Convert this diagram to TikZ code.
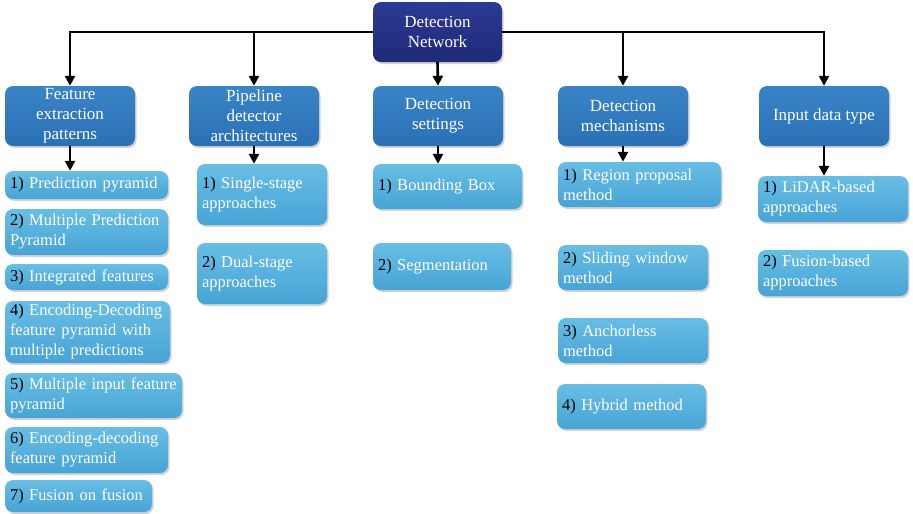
\documentclass[tikz,border=0pt]{standalone}
\usepackage{fontspec}
\setmainfont{Liberation Serif}
\usetikzlibrary{arrows.meta,shadows}

\definecolor{navy}{HTML}{1F2A78}
\definecolor{navytop}{HTML}{2B3A92}
\definecolor{midblue}{HTML}{2A70B5}
\definecolor{midtop}{HTML}{3A84C6}
\definecolor{lightblue}{HTML}{48A4D6}
\definecolor{lighttop}{HTML}{68BEE4}

\newcommand{\numlbl}[1]{\textcolor{black}{#1)}}

\tikzset{
    basebox/.style={rounded corners=8pt, text=white, inner ysep=2pt,
        drop shadow={opacity=0.35, shadow xshift=1.5pt, shadow yshift=-2pt}},
    rootbox/.style={basebox, top color=navytop, bottom color=navy, align=center,
        minimum width=129pt, minimum height=60pt, font=\fontsize{17}{20}\selectfont},
    headbox/.style={basebox, top color=midtop, bottom color=midblue, align=center,
        minimum width=130pt, minimum height=60pt, font=\fontsize{17}{20}\selectfont},
    itembox/.style={basebox, top color=lighttop, bottom color=lightblue, align=left,
        inner xsep=5pt, font=\fontsize{16.5}{20}\selectfont},
    link/.style={line width=2.6pt, -{Triangle[width=10pt,length=10pt]}}
}

\begin{document}
\begin{tikzpicture}[x=1pt, y=-1pt]
    \useasboundingbox (0,0) rectangle (913,514);

    %Root and second level
    \node[rootbox] (net) at (437.5,32) {Detection\\Network};
    \node[headbox] (feat) at (70,116) {Feature\\extraction\\patterns};
    \node[headbox] (pipe) at (254,116) {Pipeline\\detector\\architectures};
    \node[headbox] (sett) at (438,116) {Detection\\settings};
    \node[headbox] (mech) at (623,116) {Detection\\mechanisms};
    \node[headbox] (inp) at (824,116) {Input data type};

    %Feature extraction patterns
    \node[itembox, text width=153pt, minimum height=28pt] (feat1) at (86.5,185) {\numlbl{1} Prediction pyramid};
    \node[itembox, text width=153pt, minimum height=46pt] (feat2) at (86.5,232) {\numlbl{2} Multiple Prediction\\Pyramid};
    \node[itembox, text width=153pt, minimum height=26pt] (feat3) at (86.5,277) {\numlbl{3} Integrated features};
    \node[itembox, text width=155pt, minimum height=62pt] (feat4) at (87.5,332) {\numlbl{4} Encoding-Decoding\\feature pyramid with\\multiple predictions};
    \node[itembox, text width=167pt, minimum height=45pt] (feat5) at (93.5,395.5) {\numlbl{5} Multiple input feature\\pyramid};
    \node[itembox, text width=153pt, minimum height=46pt] (feat6) at (86.5,450) {\numlbl{6} Encoding-decoding\\feature pyramid};
    \node[itembox, text width=137pt, minimum height=32pt] (feat7) at (78.5,496) {\numlbl{7} Fusion on fusion};

    %Pipeline detector architectures
    \node[itembox, text width=120pt, minimum height=61pt] (pipe1) at (262,194.5) {\numlbl{1} Single-stage\\approaches};
    \node[itembox, text width=120pt, minimum height=61pt] (pipe2) at (262,273.5) {\numlbl{2} Dual-stage\\approaches};

    %Detection settings
    \node[itembox, text width=139pt, minimum height=45pt] (sett1) at (447.5,186.5) {\numlbl{1} Bounding Box};
    \node[itembox, text width=128pt, minimum height=47pt] (sett2) at (442,266.5) {\numlbl{2} Segmentation};

    %Detection mechanisms
    \node[itembox, text width=153pt, minimum height=45pt] (mech1) at (639.5,184.5) {\numlbl{1} Region proposal\\method};
    \node[itembox, text width=140pt, minimum height=45pt] (mech2) at (633,267.5) {\numlbl{2} Sliding window\\method};
    \node[itembox, text width=140pt, minimum height=45pt] (mech3) at (633,340.5) {\numlbl{3} Anchorless\\method};
    \node[itembox, text width=139pt, minimum height=45pt] (mech4) at (631.5,406.5) {\numlbl{4} Hybrid method};

    %Input data type
    \node[itembox, text width=140pt, minimum height=46pt] (inp1) at (833,199) {\numlbl{1} LiDAR-based\\approaches};
    \node[itembox, text width=140pt, minimum height=46pt] (inp2) at (833,273) {\numlbl{2} Fusion-based\\approaches};

    %Connectors
    \draw[link] (net.west) -| (feat.north);
    \draw[link] (net.west) -| (pipe.north);
    \draw[link] (net.south) -- (sett.north);
    \draw[link] (net.east) -| (mech.north);
    \draw[link] (net.east) -| (inp.north);

    \draw[link] (feat.south) -- (feat.south |- feat1.north);
    \draw[link] (pipe.south) -- (pipe.south |- pipe1.north);
    \draw[link] (sett.south) -- (sett.south |- sett1.north);
    \draw[link] (mech.south) -- (mech.south |- mech1.north);
    \draw[link] (inp.south) -- (inp.south |- inp1.north);
\end{tikzpicture}
\end{document}
